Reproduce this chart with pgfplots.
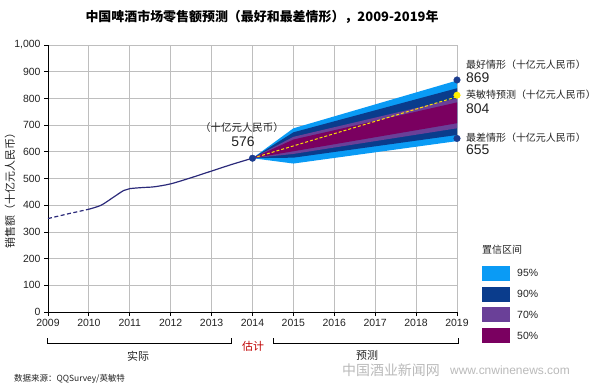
\documentclass[border=0pt]{standalone}
\usepackage{pgfplots}
\pgfplotsset{compat=1.18}
\usepackage{fontspec}
\setmainfont{Liberation Sans}
\newfontfamily\cjk{Noto Sans CJK SC}
\definecolor{c95}{HTML}{0A9BF5}
\definecolor{c90}{HTML}{0A3C8C}
\definecolor{c70}{HTML}{6A4098}
\definecolor{c50}{HTML}{7A0060}
\definecolor{navy}{HTML}{2B2A7A}
\definecolor{dotblue}{HTML}{1B3D8F}
\definecolor{gridgray}{HTML}{BEBEBE}
\definecolor{txt}{HTML}{222222}
\begin{document}
\begin{tikzpicture}[x=1bp,y=1bp]
\path[use as bounding box] (-48,-73) rectangle (552,312);
\begin{axis}[at={(0,0)}, anchor=south west, scale only axis,
  width=409bp, height=267bp,
  xmin=2009, xmax=2019, ymin=0, ymax=1000,
  xtick={2009,...,2019}, ytick={0,100,...,1000},
  grid=major, grid style={gridgray, line width=0.8pt},
  axis x line*=bottom, axis y line*=left,
  axis line style={black, line width=0.8pt, -},
  tick align=outside, tick style={black, line width=0.8pt},
  major tick length=4bp,
  clip=false,
  /pgf/number format/assume math mode=true,
  x tick label style={font=\fontsize{10.5}{12}\selectfont, text=txt, /pgf/number format/.cd, 1000 sep={}},
  y tick label style={font=\fontsize{10.5}{12}\selectfont, text=txt, /pgf/number format/.cd, 1000 sep={,}},
]
% 95%
\addplot[fill=c95, draw=none] coordinates {(2014,576) (2015,688) (2019,867) (2019,640) (2015,556) (2014,576)};
% 90%
\addplot[fill=c90, draw=none] coordinates {(2014,576) (2015,673) (2019,838) (2019,663) (2015,578) (2014,576)};
% 70%
\addplot[fill=c70, draw=none] coordinates {(2014,576) (2015,656) (2019,800) (2019,688) (2015,592) (2014,576)};
% 50%
\addplot[fill=c50, draw=none] coordinates {(2014,576) (2015,646) (2019,785) (2019,707) (2015,602) (2014,576)};
% historical
\addplot[navy, line width=1.2pt, dash pattern=on 4bp off 2.5bp] coordinates {(2009,350) (2009.5,368) (2010,385)};
\addplot[navy, line width=1.2pt, smooth, tension=0.5] coordinates {
(2010,385) (2010.3,400) (2010.6,430) (2010.85,455) (2011,462) (2011.3,466) (2011.6,469) (2012,480) (2012.5,503) (2013,528) (2013.5,553) (2014,576)};
% forecast median
\addplot[yellow!85!orange, line width=1pt, dash pattern=on 3bp off 2bp] coordinates {(2014,576) (2019,806)};
% dots
\addplot[only marks, mark=*, mark size=3.3bp, dotblue] coordinates {(2014,576) (2019,869) (2019,650)};
\addplot[only marks, mark=*, mark size=3.3bp, draw=yellow!90!orange, fill=yellow] coordinates {(2019,812)};
\end{axis}
% title
\node[font=\cjk\bfseries\fontsize{13}{15}\selectfont] at (214,295) {中国啤酒市场零售额预测（最好和最差情形），2009-2019年};
% y label
\node[font=\cjk\fontsize{11}{13}\selectfont, rotate=90, text=txt] at (-38,124) {销售额（十亿元人民币）};
% annotations
\node[font=\cjk\fontsize{10.5}{12}\selectfont, text=txt] at (194,184) {（十亿元人民币）};
\node[font=\fontsize{14}{16}\selectfont, text=txt] at (195,170) {576};
\node[anchor=west, font=\cjk\fontsize{10}{12}\selectfont, text=txt, inner sep=0] at (418,247) {最好情形（十亿元人民币）};
\node[anchor=west, font=\fontsize{14}{16}\selectfont, text=txt, inner sep=0] at (418,234) {869};
\node[anchor=west, font=\cjk\fontsize{10}{12}\selectfont, text=txt, inner sep=0] at (418,217) {英敏特预测（十亿元人民币）};
\node[anchor=west, font=\fontsize{14}{16}\selectfont, text=txt, inner sep=0] at (418,203) {804};
\node[anchor=west, font=\cjk\fontsize{10}{12}\selectfont, text=txt, inner sep=0] at (418,174) {最差情形（十亿元人民币）};
\node[anchor=west, font=\fontsize{14}{16}\selectfont, text=txt, inner sep=0] at (418,162) {655};
% legend
\node[anchor=west, font=\cjk\fontsize{10}{12}\selectfont, text=txt, inner sep=0] at (434,62) {置信区间};
\fill[c95] (434,31.3) rectangle (462,46.3);
\fill[c90] (434,10.3) rectangle (462,25.3);
\fill[c70] (434,-10.3) rectangle (462,4.7);
\fill[c50] (434,-31.3) rectangle (462,-16.3);
\node[anchor=west, font=\fontsize{10.5}{12}\selectfont, text=txt, inner sep=0] at (469,38.8) {95\%};
\node[anchor=west, font=\fontsize{10.5}{12}\selectfont, text=txt, inner sep=0] at (469,17.8) {90\%};
\node[anchor=west, font=\fontsize{10.5}{12}\selectfont, text=txt, inner sep=0] at (469,-2.8) {70\%};
\node[anchor=west, font=\fontsize{10.5}{12}\selectfont, text=txt, inner sep=0] at (469,-23.8) {50\%};
% brackets
\draw[black, line width=0.8pt] (-1,-26) -- (-1,-31) -- (183.5,-31) -- (183.5,-26);
\draw[black, line width=0.8pt] (225.5,-26) -- (225.5,-31) -- (410,-31) -- (410,-26);
\node[font=\cjk\fontsize{11}{13}\selectfont, text=red!75!black] at (205,-34) {估计};
\node[font=\cjk\fontsize{11}{13}\selectfont, text=txt] at (90,-44) {实际};
\node[font=\cjk\fontsize{11}{13}\selectfont, text=txt] at (319,-43) {预测};
\node[anchor=west, font=\cjk\fontsize{8.5}{10}\selectfont, text=txt, inner sep=0] at (-34,-67) {数据来源：QQSurvey/英敏特};
% watermark
\node[anchor=west, font=\cjk\fontsize{14}{16}\selectfont, text=gray!55, inner sep=0] at (294,-58) {中国酒业新闻网};
\node[anchor=west, font=\fontsize{12}{14}\selectfont, text=gray!55, inner sep=0] at (402,-58) {www.cnwinenews.com};
\end{tikzpicture}
\end{document}
